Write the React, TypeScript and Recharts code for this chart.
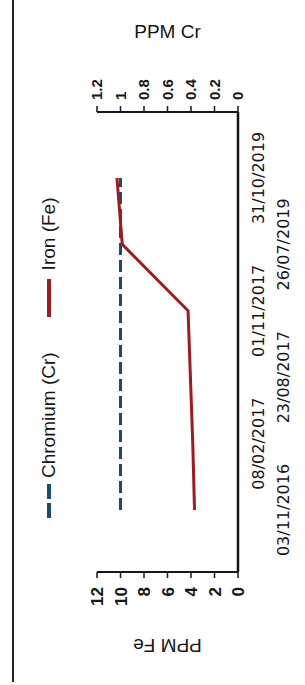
import React from "react";
import { LineChart, Line, XAxis, YAxis, Legend, Label } from "recharts";

// values
const dates = ["03/11/2016", "08/02/2017", "23/08/2017", "01/11/2017", "26/07/2019", "31/10/2019"];
const ironFe = [3.7, 3.85, 4.05, 4.25, 9.85, 10.3];
const chromiumCr = [1, 1, 1, 1, 1, 1];
const feTicks = [0, 2, 4, 6, 8, 10, 12];
const crTicks = [0, 0.2, 0.4, 0.6, 0.8, 1, 1.2];

const data = dates.map((date, i) => ({ date, fe: ironFe[i], cr: chromiumCr[i] }));

const CR_COLOR = "#1c4c6c";
const FE_COLOR = "#9c1c1f";
const INK = "#161616";

// chart is drawn landscape then turned a quarter turn, like the scan
const W = 685;
const H = 305;

function DateTick(props: any) {
  const { x, y, payload, index } = props;
  const dy = index % 2 === 0 ? 51 : 26;
  return (
    <text x={x} y={y + dy} textAnchor="middle" fontFamily="DejaVu Sans" fontSize={16} fill={INK}>
      {payload.value}
    </text>
  );
}

function AxisTitle({ viewBox, text, dx, angle }: any) {
  const cx = viewBox.x + dx;
  const cy = viewBox.y + viewBox.height / 2;
  return (
    <text
      x={cx}
      y={cy}
      transform={`rotate(${angle}, ${cx}, ${cy})`}
      textAnchor="middle"
      dominantBaseline="central"
      fontFamily="Liberation Sans"
      fontSize={19}
      fill={INK}
    >
      {text}
    </text>
  );
}

function LegendContent({ payload }: any) {
  return (
    <div style={{ display: "flex", alignItems: "center", fontFamily: "Liberation Sans", fontSize: 19, color: INK, lineHeight: "22px" }}>
      {(payload || []).map((entry: any, i: number) => {
        const dashed = entry.dataKey === "cr";
        const len = dashed ? 34 : 38;
        return (
          <div key={entry.value} style={{ display: "flex", alignItems: "center", marginLeft: i === 0 ? 0 : 35 }}>
            <svg width={len} height={8} style={{ marginRight: dashed ? 6 : 9 }}>
              <line x1={0} y1={4} x2={len} y2={4} stroke={entry.color} strokeWidth={4} strokeDasharray={dashed ? "15 4" : undefined} />
            </svg>
            <span style={{ whiteSpace: "nowrap" }}>{entry.value}</span>
          </div>
        );
      })}
    </div>
  );
}

export default function App() {
  return (
    <div style={{ position: "absolute", left: 0, top: 0, width: 305, height: 685, overflow: "hidden", background: "#fff" }}>
      <div style={{ position: "absolute", left: 12, top: 0, width: 2, height: 682, background: "#222" }} />
      <div
        style={{
          position: "absolute",
          left: 0,
          top: 0,
          width: W,
          height: H,
          transformOrigin: "0 0",
          transform: `translate(0px, ${W}px) rotate(-90deg)`,
        }}
      >
        <LineChart width={W} height={H} data={data} margin={{ top: 97, right: 52, bottom: 7, left: 53 }}>
          <XAxis
            dataKey="date"
            type="category"
            interval={0}
            padding={{ left: 62, right: 66 }}
            height={60}
            tick={<DateTick />}
            tickLine={false}
            tickSize={0}
            tickMargin={0}
            axisLine={{ stroke: INK, strokeWidth: 2.5 }}
          />
          <YAxis
            yAxisId="fe"
            orientation="left"
            width={60}
            domain={[0, 12]}
            ticks={feTicks}
            interval={0}
            tick={{ fill: INK, fontSize: 17, fontWeight: 700, fontFamily: "Liberation Sans" }}
            tickSize={6}
            tickMargin={9}
            tickLine={{ stroke: INK, strokeWidth: 1.5 }}
            axisLine={{ stroke: INK, strokeWidth: 2 }}
          >
            <Label content={(p: any) => <AxisTitle {...p} text="PPM Fe" dx={-13} angle={-90} />} />
          </YAxis>
          <YAxis
            yAxisId="cr"
            orientation="right"
            width={60}
            domain={[0, 1.2]}
            ticks={crTicks}
            interval={0}
            tickFormatter={(v) => String(v)}
            tick={{ fill: INK, fontSize: 15, fontWeight: 700, fontFamily: "Liberation Sans" }}
            tickSize={6}
            tickMargin={6}
            tickLine={{ stroke: INK, strokeWidth: 1.5 }}
            axisLine={{ stroke: INK, strokeWidth: 2 }}
          >
            <Label content={(p: any) => <AxisTitle {...p} text="PPM Cr" dx={81} angle={90} />} />
          </YAxis>
          <Legend
            verticalAlign="middle"
            align="center"
            wrapperStyle={{ top: 38, left: 167, width: "auto" }}
            content={<LegendContent />}
          />
          <Line
            yAxisId="cr"
            dataKey="cr"
            name="Chromium (Cr)"
            type="linear"
            stroke={CR_COLOR}
            strokeWidth={3}
            strokeDasharray="12 5"
            dot={false}
            isAnimationActive={false}
          />
          <Line
            yAxisId="fe"
            dataKey="fe"
            name="Iron (Fe)"
            type="linear"
            stroke={FE_COLOR}
            strokeWidth={3}
            dot={false}
            isAnimationActive={false}
          />
        </LineChart>
      </div>
    </div>
  );
}
